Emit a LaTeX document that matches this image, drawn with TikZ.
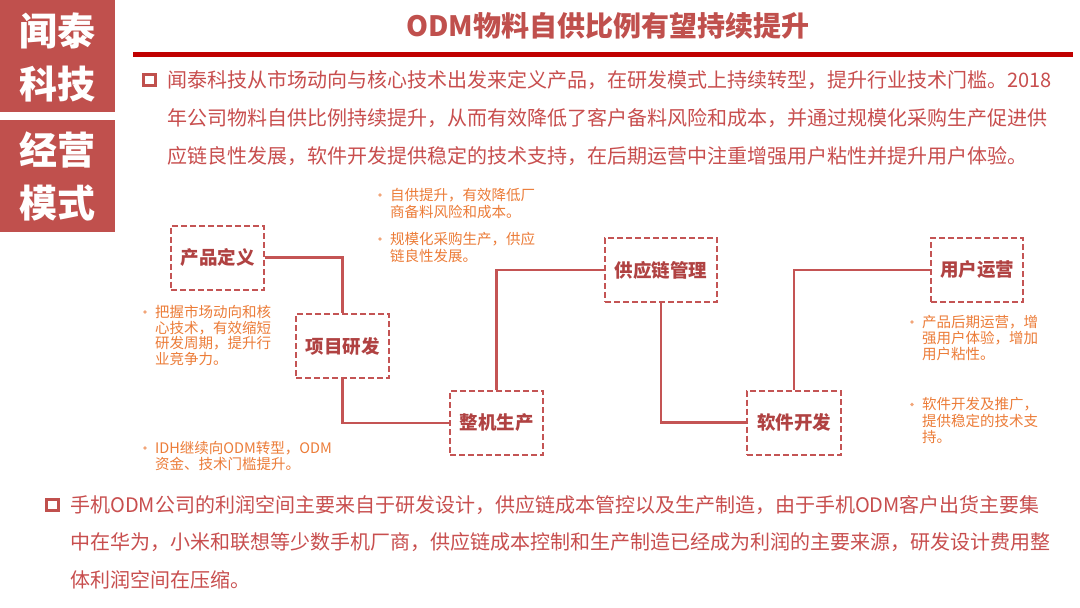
\documentclass[tikz,border=0pt]{standalone}
\usepackage{fontspec}
\setmainfont{Noto Sans CJK SC}
\definecolor{sidec}{RGB}{192,80,77}
\definecolor{titlec}{RGB}{192,80,77}
\definecolor{rulec}{RGB}{192,0,0}
\definecolor{bodyc}{RGB}{200,78,78}
\definecolor{boxc}{RGB}{196,84,84}
\definecolor{boxtc}{RGB}{176,66,66}
\definecolor{orangec}{RGB}{236,124,56}
\definecolor{dotc}{RGB}{242,165,120}
\tikzset{
  sidet/.style={text=white, inner sep=0pt, font=\fontsize{38}{40}\selectfont\bfseries},
  titlet/.style={text=titlec, inner sep=0pt, font=\fontsize{28}{30}\selectfont\bfseries},
  body/.style={anchor=west, inner sep=0pt, text=bodyc, font=\fontsize{20}{24}\selectfont},
  sq/.style={draw=sidec, line width=3pt, minimum size=11.5pt, inner sep=0pt},
  stage/.style={draw=boxc, dash pattern=on 6pt off 3pt, line width=2pt, fill=white,
    minimum height=64pt, inner sep=0pt, text=boxtc, font=\fontsize{18.5}{20}\selectfont\bfseries},
  link/.style={draw=boxc, line width=2.4pt},
  note/.style={anchor=west, inner sep=0pt, text=orangec, font=\fontsize{14.5}{16}\selectfont},
  dot/.style={circle, fill=dotc, minimum size=3.6pt, inner sep=0pt}
}
\begin{document}
\begin{tikzpicture}[x=1pt,y=-1pt]
\fill[white] (0,0) rectangle (1080,608);
\useasboundingbox (0,0) rectangle (1080,608);
% side labels
\fill[sidec] (0,0) rectangle (115,112);
\fill[sidec] (0,120) rectangle (115,232);
\node[sidet] (s1) at (57.5,31) {闻泰};
\node[sidet] (s2) at (57.5,84) {科技};
\node[sidet] (s3) at (57.5,150) {经营};
\node[sidet] (s4) at (57.5,203) {模式};
% title
\node[titlet] (title) at (608,26) {ODM物料自供比例有望持续提升};
\draw[rulec, line width=5pt] (133,54) -- (1073,54);
% top paragraph
\node[sq] (b1) at (149.5,80) {};
\node[body] (p1) at (167,80) {闻泰科技从市场动向与核心技术出发来定义产品，在研发模式上持续转型，提升行业技术门槛。2018};
\node[body] (p2) at (167,118) {年公司物料自供比例持续提升，从而有效降低了客户备料风险和成本，并通过规模化采购生产促进供};
\node[body] (p3) at (167,156) {应链良性发展，软件开发提供稳定的技术支持，在后期运营中注重增强用户粘性并提升用户体验。};
% diagram
\node[stage, minimum width=93pt] (cp) at (217.5,257.5) {产品定义};
\node[stage, minimum width=93pt] (xm) at (342.5,346) {项目研发};
\node[stage, minimum width=93pt] (zj) at (496.5,423) {整机生产};
\node[stage, minimum width=112pt] (gy) at (661,270) {供应链管理};
\node[stage, minimum width=94pt] (rj) at (794,422.5) {软件开发};
\node[stage, minimum width=92pt] (yh) at (977,270) {用户运营};
\draw[link] (cp.east) -| (xm.north);
\draw[link] (xm.south) |- (zj.west);
\draw[link] (zj.north) |- (gy.west);
\draw[link] (gy.south) |- (rj.west);
\draw[link] (rj.north) |- (yh.west);
% notes
\node[dot] (da1) at (380,195) {};
\node[note] (a1) at (390,195) {自供提升，有效降低厂};
\node[note] (a2) at (390,211.5) {商备料风险和成本。};
\node[dot] (db1) at (380,239) {};
\node[note] (b1t) at (390,239) {规模化采购生产，供应};
\node[note] (b2t) at (390,255.5) {链良性发展。};
\node[dot] (dc1) at (145,312) {};
\node[note] (c1) at (155,312) {把握市场动向和核};
\node[note] (c2) at (155,327.8) {心技术，有效缩短};
\node[note] (c3) at (155,343.5) {研发周期，提升行};
\node[note] (c4) at (155,359.3) {业竞争力。};
\node[dot] (dd1) at (145,448) {};
\node[note] (d1) at (155,448) {IDH继续向ODM转型，ODM};
\node[note] (d2) at (155,464) {资金、技术门槛提升。};
\node[dot] (de1) at (912,322) {};
\node[note] (e1) at (922,322) {产品后期运营，增};
\node[note] (e2) at (922,337.8) {强用户体验，增加};
\node[note] (e3) at (922,353.5) {用户粘性。};
\node[dot] (df1) at (912,404.5) {};
\node[note] (f1) at (922,404.5) {软件开发及推广，};
\node[note] (f2) at (922,420.5) {提供稳定的技术支};
\node[note] (f3) at (922,436.7) {持。};
% bottom paragraph
\node[sq] (b2) at (52.5,505) {};
\node[body] (q1) at (70,505) {手机ODM公司的利润空间主要来自于研发设计，供应链成本管控以及生产制造，由于手机ODM客户出货主要集};
\node[body] (q2) at (70,542.5) {中在华为，小米和联想等少数手机厂商，供应链成本控制和生产制造已经成为利润的主要来源，研发设计费用整};
\node[body] (q3) at (70,580) {体利润空间在压缩。};
\end{tikzpicture}
\end{document}
